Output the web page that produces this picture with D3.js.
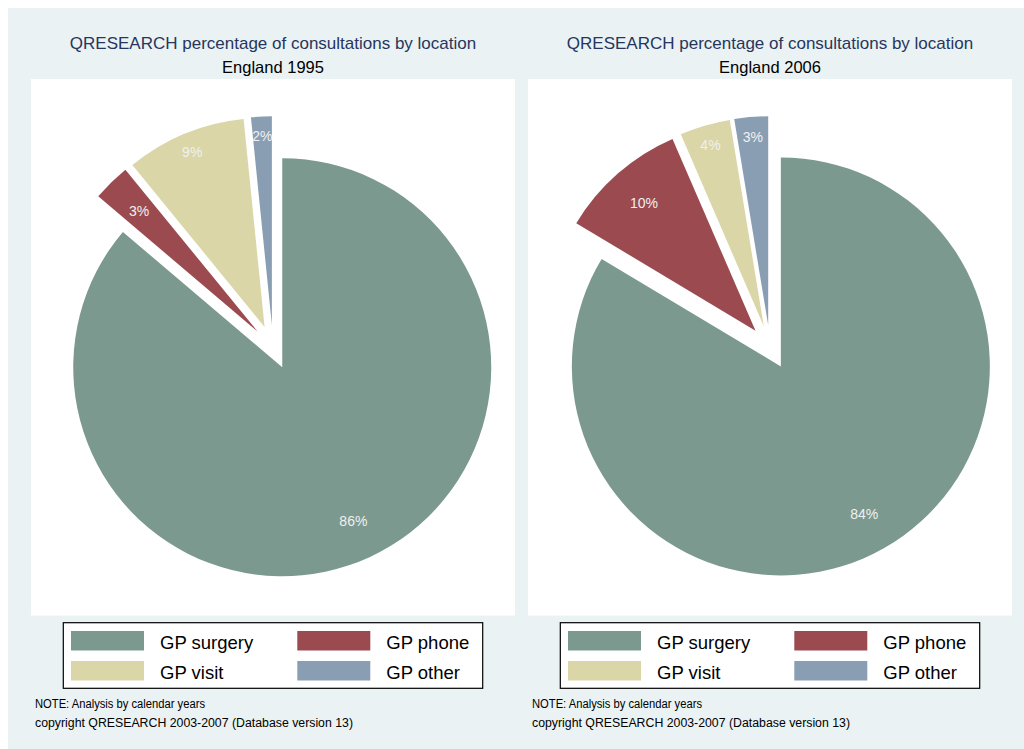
<!DOCTYPE html>
<html>
<head>
<meta charset="utf-8">
<script src="https://cdn.jsdelivr.net/npm/d3@7/dist/d3.min.js"></script>
<style>
  html, body { margin: 0; padding: 0; background: #ffffff; }
  svg { display: block; font-family: "Liberation Sans", Arial, Helvetica, sans-serif; }
</style>
</head>
<body>
<svg id="chart" width="1024" height="749"></svg>
<script>
// ---- data ----
const categories = ["GP surgery", "GP phone", "GP visit", "GP other"];
const values1995 = [86.2, 2.9, 9.3, 1.6];
const values2006 = [83.6, 9.9, 3.9, 2.6];
const chartTitle = "QRESEARCH percentage of consultations by location";
const subtitles = ["England 1995", "England 2006"];
const noteLines = ["NOTE: Analysis by calendar years", "copyright QRESEARCH 2003-2007 (Database version 13)"];

// ---- styles ----
const colors = d3.scaleOrdinal()
  .domain(categories)
  .range(["#7b998e", "#9b4a50", "#dad6a7", "#8a9eb3"]);
const noteWidths = [170, 318];

const svg = d3.select("#chart");
svg.append("rect").attr("x", 8).attr("y", 8).attr("width", 1016).attr("height", 741).attr("fill", "#eaf2f3");

const panels = [
  { values: values1995, subtitle: subtitles[0], x0: 31, x1: 515 },
  { values: values2006, subtitle: subtitles[1], x0: 528, x1: 1012 }
];

const plotTop = 79, plotBottom = 615.5;
const radius = 209, explode = 22;

const pie = d3.pie().sort(null).value(d => d.value).startAngle(0).endAngle(2 * Math.PI);
const arc = d3.arc().innerRadius(0).outerRadius(radius);
const pctFmt = d3.format(".0f");

panels.forEach(p => {
  const g = svg.append("g");
  const cx = (p.x0 + p.x1) / 2;
  const cy = (plotTop + plotBottom) / 2;

  // title
  g.append("text").attr("x", cx).attr("y", 48.5).attr("text-anchor", "middle")
    .attr("font-size", 17).attr("fill", "#26365e").text(chartTitle);
  g.append("text").attr("x", cx).attr("y", 72.5).attr("text-anchor", "middle")
    .attr("font-size", 16.5).attr("fill", "#000000").text(p.subtitle);

  // plot region
  g.append("rect").attr("x", p.x0).attr("y", plotTop).attr("width", p.x1 - p.x0)
    .attr("height", plotBottom - plotTop).attr("fill", "#ffffff");

  const data = categories.map((c, i) => ({ cat: c, value: p.values[i] }));
  const total = d3.sum(data, d => d.value);
  const arcs = pie(data);

  const pg = g.append("g").attr("transform", `translate(${cx},${cy})`);
  const slices = pg.selectAll("g.slice").data(arcs).join("g").attr("class", "slice")
    .attr("transform", d => {
      const m = (d.startAngle + d.endAngle) / 2;
      return `translate(${Math.sin(m) * explode},${-Math.cos(m) * explode})`;
    });
  slices.append("path").attr("d", arc).attr("fill", d => colors(d.data.cat));
  slices.append("text")
    .attr("transform", d => {
      const m = (d.startAngle + d.endAngle) / 2;
      const f = Math.cos(m) > 0.85 ? 0.905 : 0.81;
      return `translate(${Math.sin(m) * radius * f},${-Math.cos(m) * radius * f})`;
    })
    .attr("text-anchor", "middle").attr("dy", "0.36em")
    .attr("font-size", 14).attr("fill", "#f0f0f0")
    .text(d => pctFmt(d.data.value / total * 100) + "%");

  // legend
  const lx = cx - 209.7, ly = 622.7, lw = 419.4, lh = 65.6;
  g.append("rect").attr("x", lx).attr("y", ly).attr("width", lw).attr("height", lh)
    .attr("fill", "#ffffff").attr("stroke", "#000000").attr("stroke-width", 1.2);
  const colX = d3.scaleOrdinal().domain([0, 1]).range([lx + 7.7, lx + 234]);
  const rowY = d3.scaleOrdinal().domain([0, 1]).range([ly + 8.3, ly + 38.3]);
  const items = g.selectAll("g.leg").data(categories).join("g").attr("class", "leg")
    .attr("transform", (c, i) => `translate(${colX(i % 2)},${rowY(Math.floor(i / 2))})`);
  items.append("rect").attr("width", 73).attr("height", 19.5).attr("fill", c => colors(c));
  items.append("text").attr("x", 89).attr("y", 17.5).attr("font-size", 18.5).attr("fill", "#000")
    .text(c => c);

  // notes
  g.selectAll("text.note").data(noteLines).join("text").attr("class", "note")
    .attr("x", p.x0 + 4).attr("y", (d, i) => 708 + i * 19).attr("font-size", 12.5).attr("fill", "#000")
    .attr("textLength", (d, i) => noteWidths[i]).attr("lengthAdjust", "spacingAndGlyphs")
    .text(d => d);
});
</script>
</body>
</html>
